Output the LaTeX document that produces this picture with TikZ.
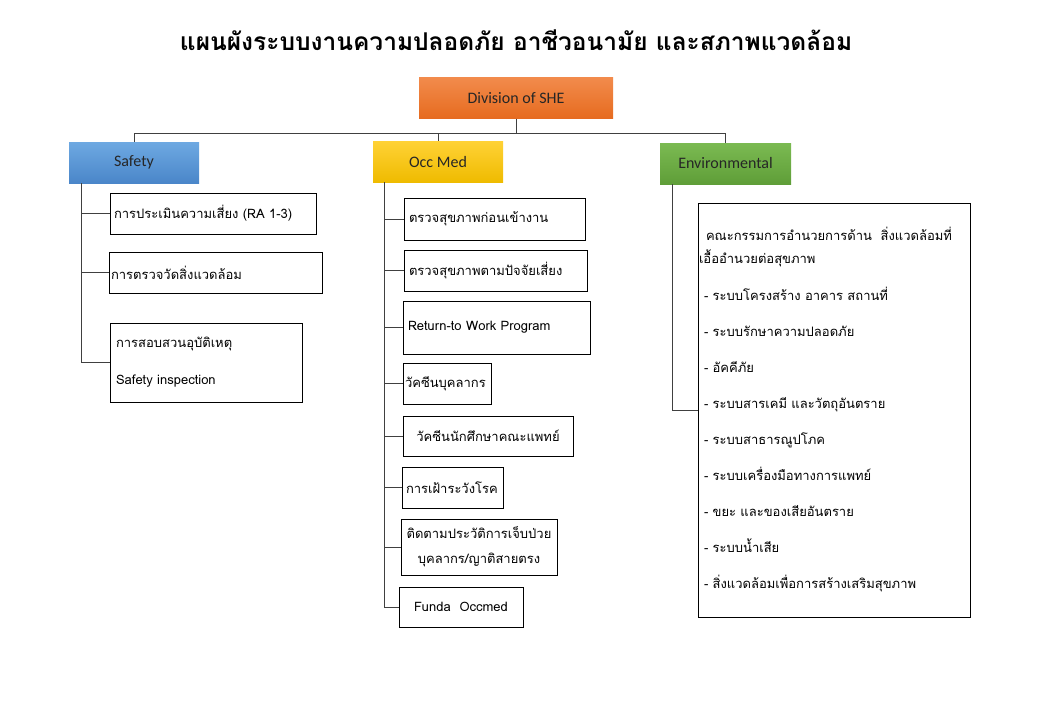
\documentclass[tikz,border=0pt]{standalone}
\usepackage{fontspec}
\setmainfont{Carlito}
\newfontfamily\thaifont[Script=Thai]{Loma}
\usepackage{xcolor}
\usetikzlibrary{positioning,calc}

\definecolor{orangetop}{HTML}{F28B4C}
\definecolor{orangebot}{HTML}{E66B1F}
\definecolor{bluetop}{HTML}{6EA9E2}
\definecolor{bluebot}{HTML}{4A86C9}
\definecolor{yellowtop}{HTML}{FFD236}
\definecolor{yellowbot}{HTML}{EFBB00}
\definecolor{greentop}{HTML}{7BBA52}
\definecolor{greenbot}{HTML}{5F9E38}

\tikzset{
    headbox/.style={minimum height=41pt, inner sep=0pt, text=black!85,
        font=\fontsize{16}{18}\selectfont},
    itembox/.style={draw=black, line width=0.8pt, inner xsep=5pt, inner ysep=0pt,
        align=left, font=\thaifont\fontsize{13}{20}\selectfont},
    link/.style={draw=black!75, line width=1pt},
}

\begin{document}
\begin{tikzpicture}[x=1pt, y=-1pt]
    \useasboundingbox (0,0) rectangle (1040,720);

    % Title
    \node[font=\thaifont\bfseries\fontsize{24.5}{28}\selectfont] (title) at (516,40)
        {แผนผังระบบงานความปลอดภัย อาชีวอนามัย และสภาพแวดล้อม};

    % Top level and groups
    \node[headbox, minimum width=194pt, top color=orangetop, bottom color=orangebot] (she) at (516,98) {Division of SHE};
    \node[headbox, minimum width=130pt, top color=bluetop, bottom color=bluebot] (safety) at (134,162.5) {Safety};
    \node[headbox, minimum width=130pt, top color=yellowtop, bottom color=yellowbot] (occ) at (438,161.5) {Occ Med};
    \node[headbox, minimum width=131pt, top color=greentop, bottom color=greenbot] (env) at (725.5,163.5) {Environmental};

    \draw[link] (she.south) -- ++(0,15) coordinate (bus);
    \draw[link] (safety.north) |- (bus) -| (env.north);
    \draw[link] (occ.north) -- (occ.north |- bus);

    % Safety
    \node[itembox, inner xsep=4pt, text width=198pt, minimum height=41pt] (s1) at (213,213.5) {การประเมินความเสี่ยง (RA 1-3)};
    \node[itembox, inner xsep=2pt, text width=209pt, minimum height=41pt] (s2) at (215.5,272.5) {การตรวจวัดสิ่งแวดล้อม};
    \node[itembox, inner xsep=6pt, text width=180pt, minimum height=79pt] (s3) at (206,362.5) {การสอบสวนอุบัติเหตุ\\[17pt] Safety inspection};

    \coordinate (strunk) at ([xshift=13pt]safety.south west);
    \draw[link] (strunk) |- (s3.west);
    \foreach \n in {s1,s2}
        \draw[link] (\n.west) -- (\n.west -| strunk);

    % Occ Med
    \node[itembox, text width=171pt, minimum height=42pt] (o1) at (494.5,219) {ตรวจสุขภาพก่อนเข้างาน};
    \node[itembox, text width=173pt, minimum height=41pt] (o2) at (495.5,270.5) {ตรวจสุขภาพตามปัจจัยเสี่ยง};
    \node[itembox, text width=177pt, minimum height=53pt] (o3) at (496.5,327.5) {Return-to Work Program};
    \node[itembox, inner xsep=2pt, text width=84pt, minimum height=41pt] (o4) at (447,383.5) {วัคซีนบุคลากร};
    \node[itembox, align=center, text width=160pt, minimum height=40pt] (o5) at (488,436) {วัคซีนนักศึกษาคณะแพทย์};
    \node[itembox, inner xsep=4pt, text width=93pt, minimum height=41pt] (o6) at (452.5,487.5) {การเฝ้าระวังโรค};
    \node[itembox, align=center, text width=146pt, minimum height=56pt,
        font=\thaifont\fontsize{13}{25}\selectfont] (o7) at (479,547) {ติดตามประวัติการเจ็บป่วย\\ บุคลากร/ญาติสายตรง};
    \node[itembox, align=center, text width=114pt, minimum height=40pt] (o8) at (461,607) {Funda~ Occmed};

    \coordinate (otrunk) at ([xshift=12pt]occ.south west);
    \draw[link] (otrunk) |- (o8.west);
    \foreach \n in {o1,o2,o3,o4,o5,o6,o7}
        \draw[link] (\n.west) -- (\n.west -| otrunk);

    % Environmental
    \node[itembox, inner xsep=1pt, text width=270pt, minimum height=414pt,
        font=\thaifont\fontsize{13}{23}\selectfont] (e1) at (834,410)
        {\hspace*{7pt}คณะกรรมการอำนวยการด้าน~ สิ่งแวดล้อมที่\\
         เอื้ออำนวยต่อสุขภาพ\\[14pt]
         \hspace*{5pt}- ระบบโครงสร้าง อาคาร สถานที่\\[13pt]
         \hspace*{5pt}- ระบบรักษาความปลอดภัย\\[13pt]
         \hspace*{5pt}- อัคคีภัย\\[13pt]
         \hspace*{5pt}- ระบบสารเคมี และวัตถุอันตราย\\[13pt]
         \hspace*{5pt}- ระบบสาธารณูปโภค\\[13pt]
         \hspace*{5pt}- ระบบเครื่องมือทางการแพทย์\\[13pt]
         \hspace*{5pt}- ขยะ และของเสียอันตราย\\[13pt]
         \hspace*{5pt}- ระบบน้ำเสีย\\[13pt]
         \hspace*{5pt}- สิ่งแวดล้อมเพื่อการสร้างเสริมสุขภาพ};

    \coordinate (etrunk) at ([xshift=13pt]env.south west);
    \draw[link] (etrunk) |- (e1.west);
\end{tikzpicture}
\end{document}
